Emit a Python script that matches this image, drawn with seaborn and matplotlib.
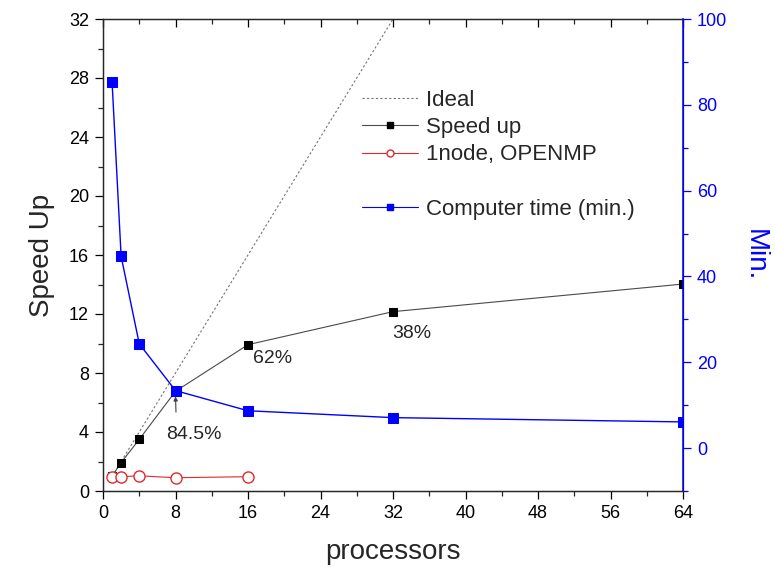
import matplotlib
matplotlib.use("Agg")
import matplotlib.pyplot as plt
from matplotlib.lines import Line2D
from matplotlib.ticker import MultipleLocator
import seaborn as sns

# processor counts
procs = [1, 2, 4, 8, 16, 32, 64]
# measured speed-up
speedup = [1.0, 1.93, 3.5, 6.76, 9.92, 12.16, 14.03]
# single node OpenMP runs
omp_procs = [1, 2, 4, 8, 16]
omp_speedup = [0.97, 0.97, 1.03, 0.9, 0.97]
# wall-clock time in minutes (right axis)
time_min = [85.4, 44.7, 24.3, 13.4, 8.7, 7.1, 6.1]
# ideal linear scaling
ideal_x = [1, 64]
ideal_y = [1, 64]
# parallel efficiency labels
eff_procs = [8, 16, 32]
eff_labels = ["84.5%", "62%", "38%"]

sns.set_style("ticks")
plt.rcParams["font.family"] = ["Liberation Sans", "DejaVu Sans"]

BLUE = "#0000ff"
RED = "#e0282e"
GRAY = "#4a4a4a"

fig = plt.figure(figsize=(7.75, 5.67), dpi=100)
ax = fig.add_axes([103 / 775, 1 - 491 / 567, 580 / 775, 472 / 567])
ax2 = ax.twinx()

sns.lineplot(x=ideal_x, y=ideal_y, ax=ax, color="0.45", lw=0.8,
             linestyle=(0, (2, 2)), legend=False)
sns.lineplot(x=procs, y=speedup, ax=ax, color=GRAY, lw=0.8, marker="s",
             markersize=5.5, markerfacecolor="black", markeredgecolor="black",
             legend=False)
sns.lineplot(x=omp_procs, y=omp_speedup, ax=ax, color=RED, lw=0.8, marker="o",
             markersize=8, markerfacecolor="white", markeredgecolor=RED,
             markeredgewidth=1.0, legend=False)
sns.lineplot(x=procs, y=time_min, ax=ax2, color=BLUE, lw=1.0, marker="s",
             markersize=6.5, markerfacecolor=BLUE, markeredgecolor=BLUE,
             legend=False)

ax.set_xlim(0, 64)
ax.set_ylim(0, 32)
ax2.set_ylim(-10, 100)

ax.xaxis.set_major_locator(MultipleLocator(8))
ax.xaxis.set_minor_locator(MultipleLocator(4))
ax.yaxis.set_major_locator(MultipleLocator(4))
ax.yaxis.set_minor_locator(MultipleLocator(2))
ax2.yaxis.set_major_locator(MultipleLocator(20))
ax2.yaxis.set_minor_locator(MultipleLocator(10))
ax2.set_yticks([0, 20, 40, 60, 80, 100])

for a in (ax, ax2):
    for s in a.spines.values():
        s.set_linewidth(0.9)
        s.set_visible(True)
ax2.spines["right"].set_color(BLUE)
ax2.spines["right"].set_linewidth(1.1)

ax.tick_params(axis="both", which="major", length=6, width=0.9, labelsize=13,
               pad=4, direction="out", colors="black")
ax.tick_params(axis="both", which="minor", length=3.5, width=0.9,
               direction="out")
ax.tick_params(axis="x", which="both", top=True)
ax2.tick_params(axis="y", which="major", length=6, width=0.9, labelsize=13,
                pad=4, colors=BLUE, direction="out")
ax2.tick_params(axis="y", which="minor", length=3.5, width=0.9, colors=BLUE,
                direction="out")
# top ticks point into the plot
for t in ax.xaxis.get_major_ticks() + ax.xaxis.get_minor_ticks():
    t.tick2line.set_marker(3)

ax.set_xlabel("processors", fontsize=20, labelpad=12)
ax.set_ylabel("Speed Up", fontsize=20, labelpad=10)
ax2.set_ylabel("Min.", fontsize=20, color=BLUE, rotation=270, labelpad=29)

# efficiency annotations
ax.annotate(eff_labels[0], xy=(eff_procs[0], speedup[3] - 0.35),
            xytext=(7.0, 3.8), fontsize=14, va="center", ha="left",
            arrowprops=dict(arrowstyle="-|>", color="0.25", lw=0.8,
                            mutation_scale=6, shrinkA=8, shrinkB=0,
                            relpos=(0.18, 1.0)))
ax.text(16.5, 9.0, eff_labels[1], fontsize=14, va="center", ha="left")
ax.text(31.9, 10.7, eff_labels[2], fontsize=14, va="center", ha="left")

handles = [
    Line2D([], [], color="0.45", lw=0.8, linestyle=(0, (2, 2))),
    Line2D([], [], color=GRAY, lw=0.8, marker="s", markersize=5,
           markerfacecolor="black", markeredgecolor="black"),
    Line2D([], [], color=RED, lw=0.8, marker="o", markersize=5,
           markerfacecolor="white", markeredgecolor=RED),
    Line2D([], [], color="none"),
    Line2D([], [], color=BLUE, lw=0.8, marker="s", markersize=5,
           markerfacecolor=BLUE, markeredgecolor=BLUE),
]
labels = ["Ideal", "Speed up", "1node, OPENMP", " ", "Computer time (min.)"]
ax2.legend(handles, labels, loc="upper left",
           bbox_to_anchor=(362 / 775, 1 - 90 / 567),
           bbox_transform=fig.transFigure, frameon=False, fontsize=16,
           handlelength=2.5, handletextpad=0.4, labelspacing=0.28,
           borderpad=0, borderaxespad=0)

fig.savefig("out.png", dpi=100)
